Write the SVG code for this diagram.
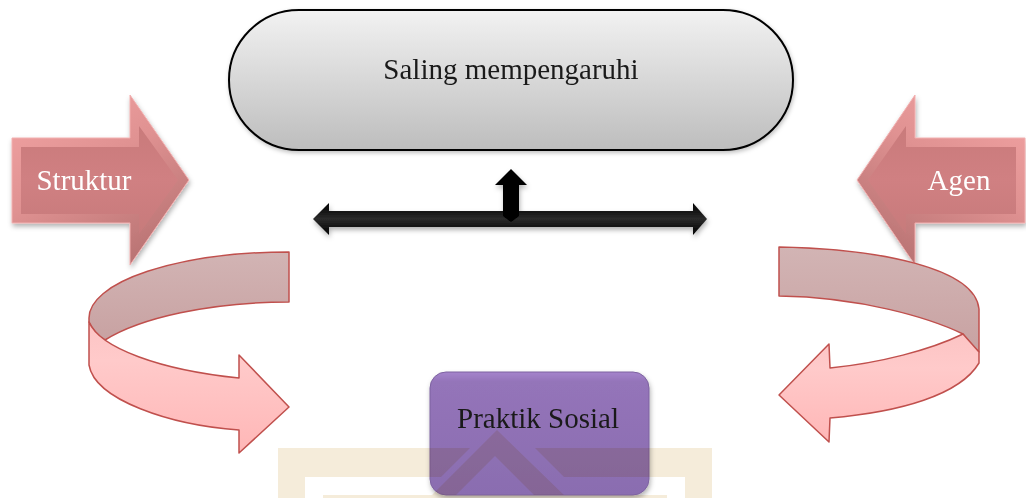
<svg xmlns="http://www.w3.org/2000/svg" width="1026" height="498" viewBox="0 0 1026 498">
<style>
  .lbl { font-family: "Liberation Serif", "Times New Roman", serif; font-size: 29px; text-anchor: middle; }
  .white { fill: #ffffff; }
  .dark { fill: #1a1a1a; }
  .ribbon { stroke: #c0504d; stroke-width: 1.5; stroke-linejoin: round; }
</style>
<defs>
  <linearGradient id="pillGrad" x1="0" y1="0" x2="0" y2="1">
    <stop offset="0" stop-color="#f2f2f2"/>
    <stop offset="1" stop-color="#bdbdbd"/>
  </linearGradient>
  <linearGradient id="purpleGrad" x1="0" y1="0" x2="0" y2="1">
    <stop offset="0" stop-color="#a584cc"/>
    <stop offset="0.08" stop-color="#9474b9"/>
    <stop offset="1" stop-color="#8a6db0"/>
  </linearGradient>
  <linearGradient id="bevelL" x1="0" y1="0" x2="0.6" y2="1">
    <stop offset="0" stop-color="#f3a4a4"/>
    <stop offset="0.5" stop-color="#e09292"/>
    <stop offset="1" stop-color="#bb7575"/>
  </linearGradient>
  <linearGradient id="bevelR" x1="1" y1="0" x2="0.4" y2="1">
    <stop offset="0" stop-color="#f3a4a4"/>
    <stop offset="0.5" stop-color="#e09292"/>
    <stop offset="1" stop-color="#bb7575"/>
  </linearGradient>
  <linearGradient id="faceGrad" x1="0" y1="0" x2="0" y2="1">
    <stop offset="0" stop-color="#c97a7b"/>
    <stop offset="0.5" stop-color="#d08082"/>
    <stop offset="1" stop-color="#c77a7b"/>
  </linearGradient>
  <linearGradient id="backGrad" x1="0" y1="0" x2="0" y2="1">
    <stop offset="0" stop-color="#d2b4b4"/>
    <stop offset="1" stop-color="#c8a2a2"/>
  </linearGradient>
  <linearGradient id="frontGradL" gradientUnits="userSpaceOnUse" x1="0" y1="320" x2="0" y2="455">
    <stop offset="0" stop-color="#fcc4c4"/>
    <stop offset="0.3" stop-color="#ffcaca"/>
    <stop offset="1" stop-color="#ffb6b6"/>
  </linearGradient>
  <linearGradient id="frontGradR" gradientUnits="userSpaceOnUse" x1="0" y1="335" x2="0" y2="445">
    <stop offset="0" stop-color="#fcc4c4"/>
    <stop offset="0.3" stop-color="#ffcaca"/>
    <stop offset="1" stop-color="#ffb6b6"/>
  </linearGradient>
  <linearGradient id="blackGrad" x1="0" y1="0" x2="0" y2="1">
    <stop offset="0" stop-color="#000000"/>
    <stop offset="0.5" stop-color="#2a2a2a"/>
    <stop offset="1" stop-color="#000000"/>
  </linearGradient>
  <filter id="shadow" x="-10%" y="-10%" width="130%" height="140%">
    <feDropShadow dx="1" dy="3" stdDeviation="2.5" flood-color="#000000" flood-opacity="0.3"/>
  </filter>
  <filter id="softShadow" x="-10%" y="-10%" width="130%" height="140%">
    <feDropShadow dx="1" dy="2" stdDeviation="2" flood-color="#000000" flood-opacity="0.25"/>
  </filter>
</defs>

<rect width="1026" height="498" fill="#ffffff"/>

<!-- Top pill node -->
<g id="node-saling">
  <rect x="229" y="10" width="564" height="140" rx="70" ry="70" fill="url(#pillGrad)" stroke="#000000" stroke-width="2" filter="url(#softShadow)"/>
  <text class="lbl dark" x="511" y="79">Saling mempengaruhi</text>
</g>

<!-- Struktur block arrow -->
<g id="node-struktur" filter="url(#shadow)">
  <polygon points="12,138 130,138 130,95 189,180 130,265 130,223 12,223" fill="url(#bevelL)" stroke="#f2b0b0" stroke-width="1"/>
  <polygon points="21,147 139,147 139,126 178,180 139,234 139,214 21,214" fill="url(#faceGrad)"/>
  <text class="lbl white" x="84" y="190">Struktur</text>
</g>

<!-- Agen block arrow -->
<g id="node-agen" filter="url(#shadow)">
  <polygon points="1025,138 915,138 915,95 857,180 915,265 915,223 1025,223" fill="url(#bevelR)" stroke="#f2b0b0" stroke-width="1"/>
  <polygon points="1016,147 906,147 906,126 868,180 906,234 906,214 1016,214" fill="url(#faceGrad)"/>
  <text class="lbl white" x="959" y="190">Agen</text>
</g>

<!-- Left curved arrow -->
<g id="node-curve-left">
  <path class="ribbon" d="M289,252 A200,66 0 0 0 89,318 L89,322 C93,330 98,336 105,340 C140,318 210,302 289,302 Z" fill="url(#backGrad)"/>
  <path class="ribbon" d="M89,322 C100,348 160,370 239,378 L239,355 L289,407 L239,453 L239,430 C170,425 95,400 89,365 Z" fill="url(#frontGradL)"/>
</g>

<!-- Right curved arrow -->
<g id="node-curve-right">
  <path class="ribbon" d="M779,247 C880,249 975,268 979,309 L979,352 C972,346 968,340 963,334 C930,318 860,297 779,296 Z" fill="url(#backGrad)"/>
  <path class="ribbon" d="M963,334 C930,350 880,363 830,368 L829,344 L779,395 L829,442 L830,418 C900,412 960,395 979,363 L979,352 Z" fill="url(#frontGradR)"/>
</g>

<!-- Praktik Sosial box -->
<g id="node-praktik">
  <rect x="430" y="372" width="219" height="123" rx="16" ry="16" fill="url(#purpleGrad)" stroke="#7d62a0" stroke-width="1" filter="url(#shadow)"/>
  <text class="lbl dark" x="538" y="428">Praktik Sosial</text>
</g>

<!-- Connectors: black arrows -->
<g id="connectors" filter="url(#shadow)">
  <polygon points="313,219 329,203 329,211 693,211 693,203 707,219 693,235 693,227 329,227 329,235" fill="url(#blackGrad)"/>
  <polygon points="511,169 527,185 519,185 519,216 511,222 503,216 503,185 495,185" fill="#000000"/>
</g>

<!-- faint watermark -->
<g id="watermark" style="mix-blend-mode:multiply" fill="#f5ecda">
  <path d="M278,448 H470 L441,477 H305 V498 H278 Z"/>
  <path d="M535,448 H712 V498 H685 V477 H564 Z"/>
  <path d="M497,430 L429,498 H453 L495,456 L537,498 H567 Z"/>
  <rect x="323" y="495" width="344" height="3"/>
</g>
</svg>
